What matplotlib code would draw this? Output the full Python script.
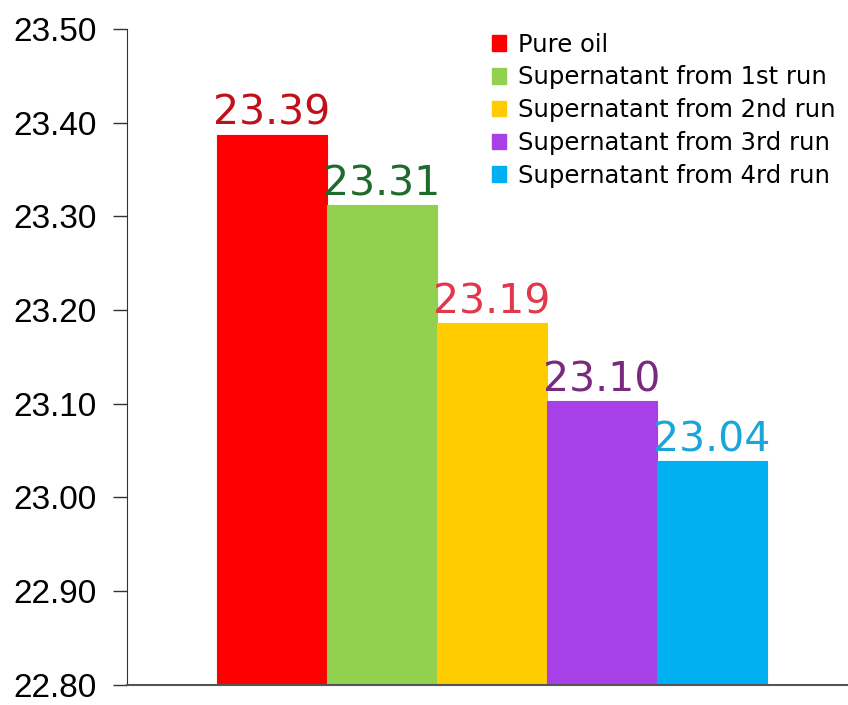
import matplotlib
matplotlib.use("Agg")
import matplotlib.pyplot as plt
from matplotlib.patches import Patch

series = ["Pure oil", "Supernatant from 1st run", "Supernatant from 2nd run",
          "Supernatant from 3rd run", "Supernatant from 4rd run"]
values = [23.387, 23.312, 23.186, 23.103, 23.039]
bar_colors = ["#FF0000", "#92D050", "#FFCC00", "#A840E8", "#00B0F0"]
label_colors = ["#C0101C", "#1E6B2C", "#E0384C", "#7A2A7E", "#1AA6DA"]
yticks = [22.80, 22.90, 23.00, 23.10, 23.20, 23.30, 23.40, 23.50]

fig = plt.figure(figsize=(8.48, 7.05), dpi=100)
ax = fig.add_axes([0.1498, 0.0285, 0.8502, 0.9304])

for i, (v, c, lc) in enumerate(zip(values, bar_colors, label_colors)):
    ax.bar(i, v - 22.80, bottom=22.80, width=1.0, color=c,
           edgecolor=c, linewidth=0.8)
    ax.text(i, v + 0.001, f"{v:.2f}", ha="center", va="bottom",
            fontsize=29.5, color=lc, family="DejaVu Sans")

ax.set_ylim(22.80, 23.50)
ax.set_xlim(-1.318, 5.236)
ax.set_yticks(yticks)
ax.set_yticklabels([f"{t:.2f}" for t in yticks], family="Liberation Sans", fontsize=24)
ax.set_xticks([])
ax.tick_params(axis="y", direction="out", length=10, width=1, pad=12, color="#333333")
for s in ["top", "right"]:
    ax.spines[s].set_visible(False)
ax.spines["left"].set_color("#333333")
ax.spines["bottom"].set_color("#555555")
ax.spines["bottom"].set_linewidth(1.5)

handles = [Patch(facecolor=c, edgecolor=c) for c in bar_colors]
leg = ax.legend(handles, series, loc="upper right", bbox_to_anchor=(1.0, 1.013),
                frameon=False, prop={"family": "DejaVu Sans", "size": 17.5},
                handlelength=0.6, handleheight=0.6, handletextpad=0.5,
                labelspacing=0.36, borderaxespad=0.1)

fig.savefig("out.png", dpi=100)
